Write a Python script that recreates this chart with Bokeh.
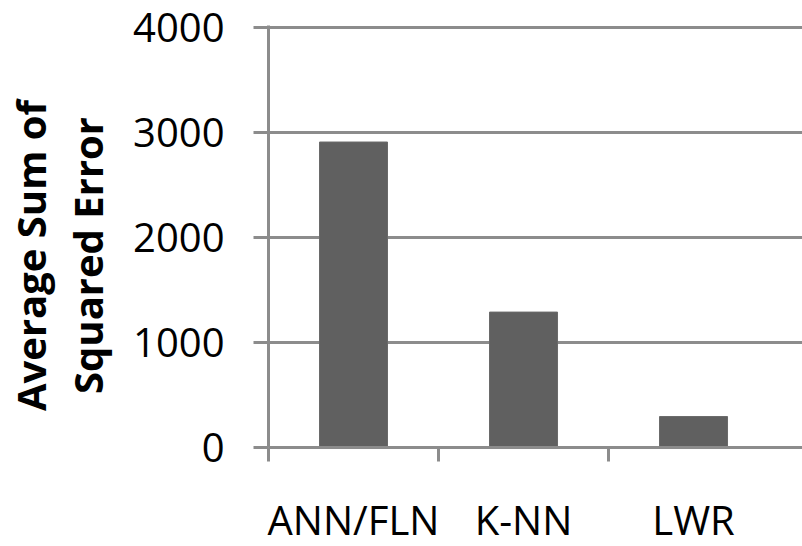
import math
from bokeh.plotting import figure
from bokeh.layouts import row
from bokeh.models import Range1d, FixedTicker
from bokeh.core.properties import value
from bokeh.embed import file_html
from bokeh.resources import INLINE

categories = ["ANN/FLN", "K-NN", "LWR"]
values = [2910, 1290, 295]
y_ticks = [0, 1000, 2000, 3000, 4000]
title_lines = ["Average Sum of", "Squared Error"]

x_pos = [i + 0.5 for i in range(len(categories))]
boundaries = [float(i) for i in range(len(categories))]

GRID = "#8c8c8c"
FONT = "Open Sans"
H = 538
TW = 124

# ---- main chart ----
p = figure(frame_width=534, frame_height=422, output_backend="svg", toolbar_location=None,
           x_range=Range1d(0, 3.141), y_range=Range1d(0, 4020),
           min_border_left=268 - TW, min_border_right=0, min_border_top=25,
           min_border_bottom=0)
p.outline_line_color = None
p.background_fill_color = "white"
p.border_fill_color = "white"

p.vbar(x=x_pos, top=values, width=0.4, fill_color="#606060", line_color="#6a6a6a", line_width=1)

p.xgrid.visible = False
p.ygrid.ticker = FixedTicker(ticks=y_ticks)
p.ygrid.grid_line_color = GRID
p.ygrid.grid_line_width = 3

xa = p.xaxis[0]
xa.ticker = FixedTicker(ticks=x_pos, minor_ticks=boundaries)
xa.major_label_overrides = {x: c for x, c in zip(x_pos, categories)}
xa.axis_line_color = GRID
xa.axis_line_width = 3
xa.major_tick_line_color = None
xa.major_tick_in = 0
xa.major_tick_out = 6
xa.minor_tick_line_color = GRID
xa.minor_tick_line_width = 3
xa.minor_tick_in = 0
xa.minor_tick_out = 14
xa.major_label_standoff = 30
xa.major_label_text_font = FONT
xa.major_label_text_font_size = "40px"
xa.major_label_text_color = "black"

ya = p.yaxis[0]
ya.ticker = FixedTicker(ticks=y_ticks)
ya.axis_line_color = GRID
ya.axis_line_width = 3
ya.major_tick_line_color = GRID
ya.major_tick_line_width = 3
ya.major_tick_in = 0
ya.major_tick_out = 15
ya.minor_tick_line_color = None
ya.major_label_standoff = 29
ya.major_label_text_font = FONT
ya.major_label_text_font_size = "40px"
ya.major_label_text_color = "black"

# ---- two-line rotated y-axis title in a narrow side panel (pixel coordinates) ----
t = figure(frame_width=TW, frame_height=H, output_backend="svg", toolbar_location=None,
           x_range=Range1d(0, TW), y_range=Range1d(0, H), title=None,
           x_axis_location=None, y_axis_location=None,
           min_border=0)
t.outline_line_color = None
t.xgrid.visible = False
t.ygrid.visible = False
t.text(x=[30, 87], y=[H - 230, H - 230], text=title_lines, angle=math.pi / 2,
       text_align="center", text_baseline="middle",
       text_font=value(FONT), text_font_style="bold",
       text_font_size="40px", text_color="black")

layout = row(t, p, spacing=0)
open("out.html", "w").write(file_html(layout, INLINE))
